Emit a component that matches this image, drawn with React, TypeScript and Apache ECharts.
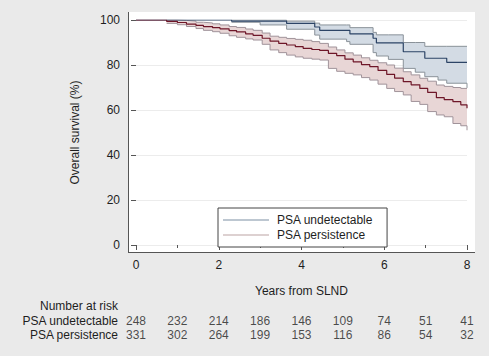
import React, { useEffect, useRef } from "react";
import * as echarts from "echarts";

// Number-at-risk table
const riskTimes = [0, 1, 2, 3, 4, 5, 6, 7, 8];
const riskUndetectable = [248, 232, 214, 186, 146, 109, 74, 51, 41];
const riskPersistence = [331, 302, 264, 199, 153, 116, 86, 54, 32];
const groupNames = ["PSA undetectable", "PSA persistence"];

// Axis ticks
const yTicks = [0, 20, 40, 60, 80, 100];
const xTicks = [0, 2, 4, 6, 8];

// PSA undetectable: KM estimate and 95% CI (step values from each time on)
const undTimes = [2.31, 3.0, 3.64, 4.32, 4.44, 5.09, 5.17, 5.73, 5.81, 6.1, 6.46, 6.75, 6.98, 7.3, 7.51, 8.0];
const undSurv = [99.5, 99.5, 98.5, 96.9, 95.4, 95.4, 93.8, 91.9, 89.8, 89.8, 85.9, 85.9, 83.0, 83.0, 81.2, 81.2];
const undLower = [99.0, 97.8, 95.9, 93.3, 91.5, 90.4, 89.2, 85.5, 84.0, 82.5, 78.5, 76.8, 74.8, 73.3, 71.9, 69.8];
const undUpper = [100, 100, 99.5, 98.6, 97.8, 97.8, 96.6, 94.5, 93.4, 93.4, 90.0, 90.0, 88.3, 88.3, 88.3, 88.3];

// PSA persistence: KM estimate and 95% CI
const perTimes = [0.74, 1.0, 1.22, 1.45, 1.63, 1.85, 2.03, 2.25, 2.43, 2.65, 2.83, 3.05, 3.24, 3.45, 3.64, 3.85, 4.04, 4.25, 4.44, 4.65, 4.85, 5.05, 5.25, 5.45, 5.65, 5.85, 6.06, 6.25, 6.46, 6.65, 6.86, 7.05, 7.26, 7.45, 7.66, 7.85, 8.0];
const perSurv = [99.4, 98.9, 98.2, 97.6, 97.1, 96.6, 96.1, 95.3, 94.7, 93.8, 93.2, 91.9, 90.6, 89.6, 88.9, 88.2, 87.4, 86.9, 86.5, 85.2, 84.2, 82.6, 81.4, 80.2, 79.3, 77.6, 75.8, 74.2, 72.6, 71.2, 69.6, 67.8, 65.5, 64.6, 63.7, 62.3, 60.8];
const perLower = [98.5, 97.9, 97.1, 96.2, 95.4, 94.8, 94.1, 93.0, 92.3, 91.6, 91.1, 89.2, 86.7, 85.5, 84.4, 83.6, 83.0, 82.6, 82.2, 78.5, 77.2, 76.3, 75.6, 74.4, 73.3, 71.5, 69.6, 68.2, 66.7, 63.8, 62.5, 59.3, 57.8, 57.0, 54.0, 53.0, 51.0];
const perUpper = [100, 99.8, 99.5, 99.0, 98.7, 98.3, 97.8, 97.1, 96.7, 96.0, 95.4, 94.2, 92.8, 92.3, 91.8, 91.4, 91.0, 90.4, 89.6, 88.0, 86.7, 85.4, 84.4, 83.2, 82.1, 81.0, 80.0, 78.6, 77.0, 75.6, 74.1, 72.8, 71.1, 70.5, 70.0, 69.6, 69.6];

const FONT = "'Liberation Sans', Arial, Helvetica, sans-serif";
const TEXT = "#1e1e1e";
const AXIS = "#555555";
const BG = "#eaeaea";

// Step-shaped polygon (in data space) between lower and upper CI bounds
function stepBand(times: number[], lower: number[], upper: number[]): number[][] {
  const pts: number[][] = [];
  const n = times.length;
  for (let i = 0; i < n; i++) {
    pts.push([times[i], upper[i]]);
    if (i < n - 1) pts.push([times[i + 1], upper[i]]);
  }
  for (let i = n - 1; i >= 0; i--) {
    pts.push([times[i], lower[i]]);
    if (i > 0) pts.push([times[i], lower[i - 1]]);
  }
  return pts;
}

function groupSeries(
  name: string,
  times: number[],
  surv: number[],
  lower: number[],
  upper: number[],
  medianColor: string,
  bandColor: string,
  edgeColor: string
): any[] {
  const base = { type: "line", step: "end", symbol: "none", silent: true };
  const band = stepBand(times, lower, upper);
  return [
    {
      type: "custom",
      silent: true,
      z: 1,
      data: [[times[0], lower[0]]],
      renderItem: (_params: any, api: any) => ({
        type: "polygon",
        shape: { points: band.map((p) => api.coord(p)) },
        style: { fill: bandColor, stroke: "none" },
      }),
    },
    {
      ...base,
      data: times.map((t, i) => [t, lower[i]]),
      lineStyle: { color: edgeColor, width: 1 },
      z: 2,
    },
    {
      ...base,
      data: times.map((t, i) => [t, upper[i]]),
      lineStyle: { color: edgeColor, width: 1 },
      z: 2,
    },
    {
      ...base,
      name,
      data: [[0, 100], ...times.map((t, i) => [t, surv[i]])],
      lineStyle: { color: medianColor, width: 1.2 },
      z: 3,
    },
  ];
}

export default function App() {
  const ref = useRef<HTMLDivElement>(null);

  useEffect(() => {
    if (!ref.current) return;
    const chart = echarts.init(ref.current, undefined, { renderer: "svg" });

    const riskSeries = [riskUndetectable, riskPersistence].map((counts, g) => ({
      type: "scatter",
      xAxisIndex: 1,
      yAxisIndex: 1,
      symbolSize: 1,
      itemStyle: { color: "transparent" },
      silent: true,
      data: riskTimes.map((t, i) => [t, groupNames[g], counts[i]]),
      label: {
        show: true,
        position: "inside",
        formatter: (p: any) => String(p.value[2]),
        fontSize: 12,
        fontFamily: FONT,
        color: TEXT,
      },
    }));

    chart.setOption({
      animation: false,
      backgroundColor: BG,
      textStyle: { fontFamily: FONT },
      graphic: [
        {
          type: "rect",
          z: -100,
          shape: { x: 128, y: 12, width: 347, height: 240 },
          style: { fill: "#ffffff" },
          silent: true,
        },
        {
          type: "line",
          z: 50,
          shape: { x1: 128.5, y1: 12, x2: 128.5, y2: 252.5 },
          style: { stroke: AXIS, lineWidth: 1 },
          silent: true,
        },
        {
          type: "line",
          z: 50,
          shape: { x1: 128, y1: 252.5, x2: 475, y2: 252.5 },
          style: { stroke: AXIS, lineWidth: 1 },
          silent: true,
        },
        {
          type: "text",
          x: 118,
          y: 306,
          style: {
            text: "Number at risk",
            fill: TEXT,
            font: `12px ${FONT}`,
            textAlign: "right",
            textVerticalAlign: "middle",
          },
          silent: true,
        },
      ],
      legend: {
        orient: "vertical",
        left: 218,
        top: 208,
        padding: [6, 14, 6, 5],
        itemWidth: 46,
        itemHeight: 1,
        itemGap: 3,
        icon: "rect",
        backgroundColor: "#ffffff",
        borderColor: "#444444",
        borderWidth: 1,
        selectedMode: false,
        textStyle: { fontSize: 12, color: TEXT, fontFamily: FONT, padding: [0, 0, 0, 3] },
        data: [
          { name: groupNames[0], icon: "rect", itemStyle: { color: "#7d8fa3" } },
          { name: groupNames[1], icon: "rect", itemStyle: { color: "#bba3a3" } },
        ],
      },
      grid: [
        { left: 136, right: 22, top: 20, bottom: 111 },
        { left: 136, right: 22, top: 314, height: 28 },
      ],
      xAxis: [
        {
          type: "value",
          min: xTicks[0],
          max: xTicks[xTicks.length - 1],
          interval: 2,
          offset: 7,
          axisLine: { show: false },
          axisTick: { show: true, length: 5, lineStyle: { color: AXIS } },
          minorTick: { show: true, splitNumber: 2, length: 3, lineStyle: { color: AXIS } },
          axisLabel: { margin: 7, fontSize: 12, color: TEXT, fontFamily: FONT },
          splitLine: { show: false },
          name: "Years from SLND",
          nameLocation: "middle",
          nameGap: 33,
          nameTextStyle: { fontSize: 12, color: TEXT, fontFamily: FONT },
        },
        { gridIndex: 1, type: "value", min: 0, max: 8, show: false },
      ],
      yAxis: [
        {
          type: "value",
          min: yTicks[0],
          max: yTicks[yTicks.length - 1],
          interval: 20,
          offset: 8,
          axisLine: { show: false },
          axisTick: { show: true, length: 5, lineStyle: { color: AXIS } },
          axisLabel: { margin: 8, fontSize: 12, color: TEXT, fontFamily: FONT },
          splitLine: { show: true, lineStyle: { color: "#ececec", width: 1 } },
          name: "Overall survival (%)",
          nameLocation: "middle",
          nameGap: 47,
          nameTextStyle: { fontSize: 12, color: TEXT, fontFamily: FONT },
        },
        {
          gridIndex: 1,
          type: "category",
          data: groupNames,
          inverse: true,
          axisLine: { show: false },
          axisTick: { show: false },
          splitLine: { show: false },
          axisLabel: { interval: 0, margin: 18, fontSize: 12, color: TEXT, fontFamily: FONT },
        },
      ],
      series: [
        ...groupSeries(groupNames[0], undTimes, undSurv, undLower, undUpper, "#2c4466", "#d3dbe4", "#8a9299"),
        ...groupSeries(groupNames[1], perTimes, perSurv, perLower, perUpper, "#6e1628", "#e8d6d6", "#a0939a"),
        ...riskSeries,
      ],
    });

    return () => chart.dispose();
  }, []);

  return (
    <div
      style={{ position: "absolute", left: 0, top: 0, width: 489, height: 356, background: BG }}
    >
      <div ref={ref} style={{ width: 489, height: 356 }} />
    </div>
  );
}
